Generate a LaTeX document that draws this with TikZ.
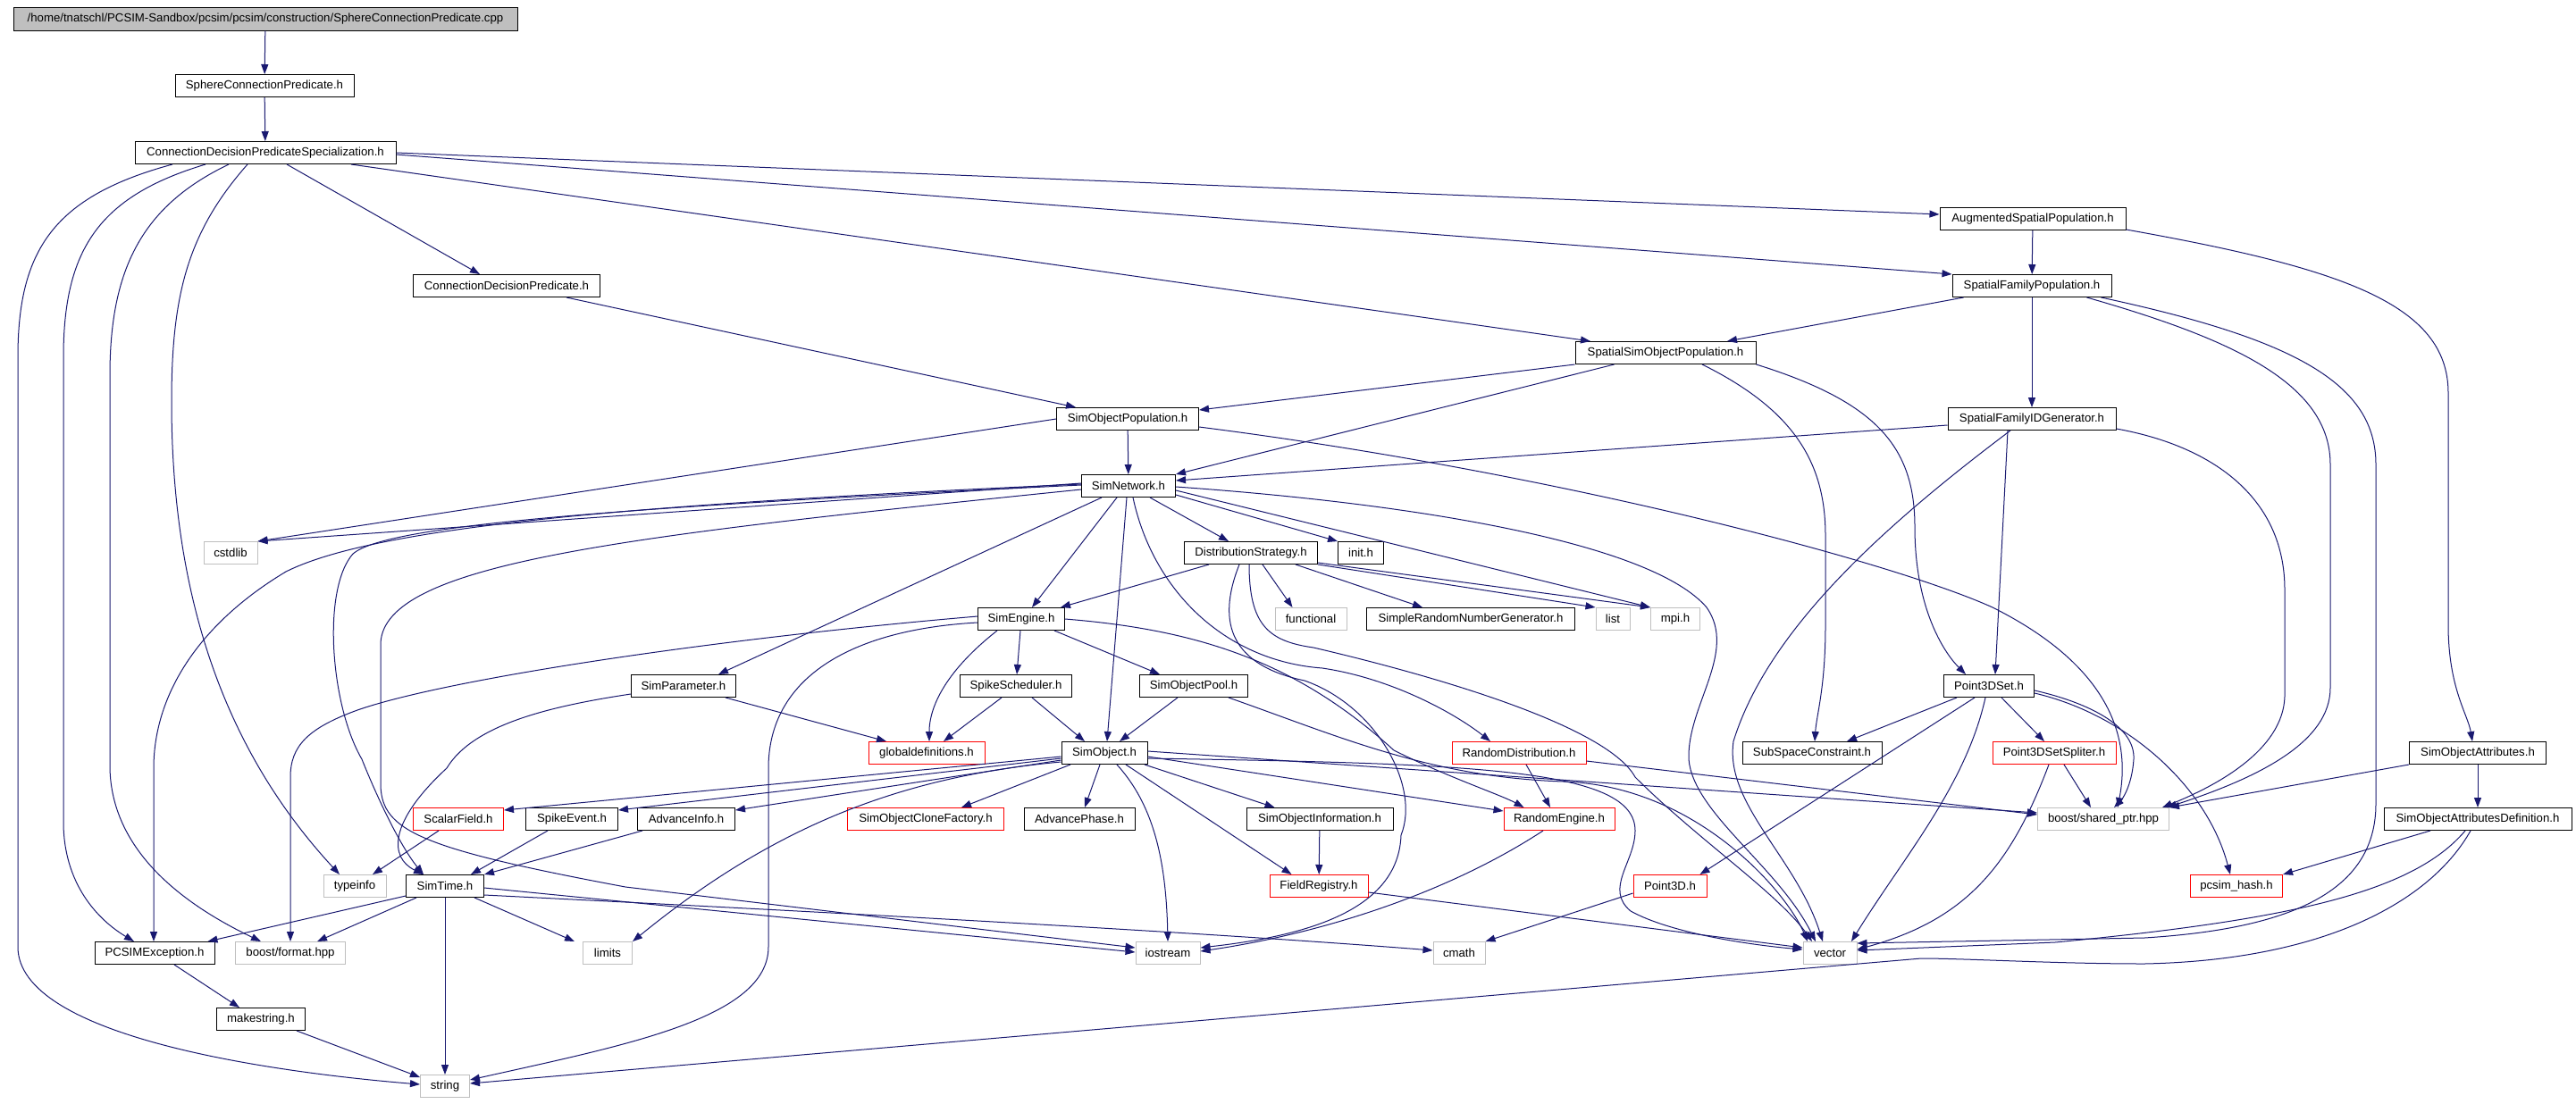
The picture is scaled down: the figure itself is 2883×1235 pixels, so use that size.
\documentclass[tikz,border=0pt]{standalone}
\usepackage{fontspec}
\setmainfont{Liberation Sans}
\usetikzlibrary{arrows.meta}
\definecolor{edgeblue}{RGB}{25,25,112}
\definecolor{sysgray}{RGB}{191,191,191}

\begin{document}
\begin{tikzpicture}[x=1pt,y=-1pt,>={Triangle[length=11pt,width=8pt]}]
    \tikzstyle{every node}=[font=\fontsize{13.2}{15}\selectfont]
    \def\bh{25pt}
    \tikzstyle{hfile}=[draw=black,line width=1pt,fill=white,inner sep=0pt,minimum height=\bh]
    \tikzstyle{sysfile}=[hfile,draw=sysgray]
    \tikzstyle{redfile}=[hfile,draw=red]
    \tikzstyle{dep}=[->,edgeblue,line width=1pt]
    \useasboundingbox (0,0) rectangle (2883,1235);
    \fill[white] (0,0) rectangle (2883,1235);
    % Draw the files, row by row
    \node[hfile,fill=sysgray,minimum height=26pt,minimum width=564pt] (cpp) at (297,21) {/home/tnatschl/PCSIM-Sandbox/pcsim/pcsim/construction/SphereConnectionPredicate.cpp};
    \node[hfile,minimum width=200pt] (scp) at (296,96) {SphereConnectionPredicate.h};
    \node[hfile,minimum width=292pt] (cdps) at (297,171) {ConnectionDecisionPredicateSpecialization.h};
    \node[hfile,minimum width=208pt] (asp) at (2275,245) {AugmentedSpatialPopulation.h};
    \node[hfile,minimum width=209pt] (cdp) at (567,320) {ConnectionDecisionPredicate.h};
    \node[hfile,minimum width=178pt] (sfp) at (2274,320) {SpatialFamilyPopulation.h};
    \node[hfile,minimum width=202pt] (ssop) at (1864,395) {SpatialSimObjectPopulation.h};
    \node[hfile,minimum width=159pt] (sop) at (1262,469) {SimObjectPopulation.h};
    \node[hfile,minimum width=188pt] (sfidg) at (2274,469) {SpatialFamilyIDGenerator.h};
    \node[hfile,minimum width=105pt] (net) at (1263,544) {SimNetwork.h};
    \node[sysfile,minimum width=60pt] (cstdlib) at (258,619) {cstdlib};
    \node[hfile,minimum width=149pt] (dist) at (1400,619) {DistributionStrategy.h};
    \node[hfile,minimum width=51pt] (init) at (1523,619) {init.h};
    \node[hfile,minimum width=97pt] (eng) at (1143,693) {SimEngine.h};
    \node[sysfile,minimum width=80pt] (func) at (1467,693) {functional};
    \node[hfile,minimum width=233pt] (srng) at (1646,693) {SimpleRandomNumberGenerator.h};
    \node[sysfile,minimum width=38pt] (list) at (1805,693) {list};
    \node[sysfile,minimum width=55pt] (mpi) at (1875,693) {mpi.h};
    \node[hfile,minimum width=117pt] (param) at (765,768) {SimParameter.h};
    \node[hfile,minimum width=125pt] (sched) at (1137,768) {SpikeScheduler.h};
    \node[hfile,minimum width=121pt] (pool) at (1336,768) {SimObjectPool.h};
    \node[hfile,minimum width=101pt] (pts) at (2226,768) {Point3DSet.h};
    \node[redfile,minimum width=130pt] (gdef) at (1037,843) {globaldefinitions.h};
    \node[hfile,minimum width=96pt] (obj) at (1236,843) {SimObject.h};
    \node[redfile,minimum width=150pt] (rdist) at (1700,843) {RandomDistribution.h};
    \node[hfile,minimum width=156pt] (ssc) at (2028,843) {SubSpaceConstraint.h};
    \node[redfile,minimum width=138pt] (split) at (2299,843) {Point3DSetSpliter.h};
    \node[hfile,minimum width=153pt] (attr) at (2773,843) {SimObjectAttributes.h};
    \node[redfile,minimum width=101pt] (scalar) at (513,917) {ScalarField.h};
    \node[hfile,minimum width=103pt] (spike) at (640,917) {SpikeEvent.h};
    \node[hfile,minimum width=109pt] (ainfo) at (768,917) {AdvanceInfo.h};
    \node[redfile,minimum width=175pt] (clone) at (1036,917) {SimObjectCloneFactory.h};
    \node[hfile,minimum width=124pt] (aphase) at (1208,917) {AdvancePhase.h};
    \node[hfile,minimum width=164pt] (oinfo) at (1477,917) {SimObjectInformation.h};
    \node[redfile,minimum width=124pt] (reng) at (1745,917) {RandomEngine.h};
    \node[sysfile,minimum width=147pt] (shptr) at (2354,917) {boost/shared\_ptr.hpp};
    \node[hfile,minimum width=210pt] (attrdef) at (2773,917) {SimObjectAttributesDefinition.h};
    \node[sysfile,minimum width=70pt] (typeinfo) at (397,992) {typeinfo};
    \node[hfile,minimum width=87pt] (time) at (498,992) {SimTime.h};
    \node[redfile,minimum width=110pt] (freg) at (1476,992) {FieldRegistry.h};
    \node[redfile,minimum width=82pt] (pt) at (1869,992) {Point3D.h};
    \node[redfile,minimum width=103pt] (hash) at (2503,992) {pcsim\_hash.h};
    \node[hfile,minimum width=134pt] (pcsimex) at (173,1067) {PCSIMException.h};
    \node[sysfile,minimum width=123pt] (fmt) at (325,1067) {boost/format.hpp};
    \node[sysfile,minimum width=55pt] (limits) at (680,1067) {limits};
    \node[sysfile,minimum width=72pt] (iostream) at (1307,1067) {iostream};
    \node[sysfile,minimum width=58pt] (cmath) at (1633,1067) {cmath};
    \node[sysfile,minimum width=60pt] (vector) at (2048,1067) {vector};
    \node[hfile,minimum width=99pt] (mkstr) at (292,1141) {makestring.h};
    \node[sysfile,minimum width=55pt] (string) at (498,1216) {string};
    % Draw the includes
    \draw[dep] (cpp) -- (scp);
    \draw[dep] (scp) -- (cdps);
    \draw[dep] ([xshift=24pt]cdps.south) -- ([xshift=-30pt]cdp.north);
    \draw[dep] (cdps.east) -- ([yshift=5pt]asp.west);
    \draw[dep] ([yshift=-2pt]cdps.east) -- (sfp.north west);
    \draw[dep] ([xshift=96pt]cdps.south) -- ([xshift=-84pt]ssop.north);
    \draw[dep] ([xshift=-104pt]cdps.south) .. controls (60,220) and (20,280) .. (20,400) -- (20,1060) .. controls (20,1160) and (300,1200) .. ([yshift=2pt]string.west);
    \draw[dep] ([xshift=-67pt]cdps.south) .. controls (110,220) and (71,280) .. (71,400) -- (71,920) .. controls (71,990) and (110,1030) .. ([xshift=-23pt]pcsimex.north);
    \draw[dep] ([xshift=-41pt]cdps.south) .. controls (160,230) and (123,300) .. (123,420) -- (123,860) .. controls (125,950) and (200,1010) .. ([xshift=-33pt]fmt.north);
    \draw[dep] ([xshift=-20pt]cdps.south) .. controls (210,260) and (192,330) .. (192,450) .. controls (192,700) and (270,860) .. ([xshift=-17pt]typeinfo.north);
    \draw[dep] (asp) -- (sfp);
    \draw[dep] ([yshift=1pt]asp.south east) .. controls (2620,300) and (2740,340) .. (2740,440) -- (2740,700) .. controls (2740,770) and (2762,800) .. ([xshift=-6pt]attr.north);
    \draw[dep] (sfp) -- (sfidg);
    \draw[dep] ([xshift=13pt]sfp.south west) -- ([xshift=69pt]ssop.north);
    \draw[dep] ([xshift=-28pt]sfp.south east) .. controls (2500,380) and (2608,430) .. (2608,520) -- (2608,770) .. controls (2608,830) and (2530,870) .. ([xshift=-3pt]shptr.north east);
    \draw[dep] ([xshift=-12pt]sfp.south east) .. controls (2570,380) and (2659,430) .. (2659,520) -- (2659,900) .. controls (2659,1000) and (2560,1040) .. (2400,1050) -- ([yshift=11pt]vector.east);
    \draw[dep] (ssop.south west) -- ([yshift=-3pt]sop.north east);
    \draw[dep] ([xshift=44pt]ssop.south west) -- (net.north east);
    \draw[dep] ([xshift=41pt]ssop.south) .. controls (2010,460) and (2043,520) .. (2043,600) -- (2043,700) .. controls (2043,770) and (2033,800) .. ([xshift=3pt]ssc.north);
    \draw[dep] (ssop.south east) .. controls (2100,450) and (2143,500) .. (2143,590) .. controls (2143,680) and (2175,730) .. ([xshift=-26pt]pts.north);
    \draw[dep] (sop) -- (net);
    \draw[dep] (sop.west) -- (cstdlib.north east);
    \draw[dep] ([yshift=-9pt]sop.east) .. controls (1750,530) and (2120,630) .. (2230,680) .. controls (2330,730) and (2390,800) .. ([xshift=16pt]shptr.north);
    \draw[dep] ([xshift=-38pt]cdp.south east) -- ([xshift=22pt]sop.north west);
    \draw[dep] ([yshift=-7pt]sfidg.west) -- ([yshift=6pt]net.east);
    \draw[dep] ([xshift=-27pt]sfidg.south) -- ([xshift=7pt]pts.north);
    \draw[dep] ([xshift=-24pt]sfidg.south) .. controls (2120,580) and (1980,700) .. (1940,830) .. controls (1930,900) and (2010,960) .. ([xshift=-8pt]vector.north);
    \draw[dep] ([yshift=2pt]sfidg.south east) .. controls (2480,500) and (2557,560) .. (2557,660) -- (2557,780) .. controls (2555,840) and (2480,880) .. ([xshift=-8pt]shptr.north east);
    % Point3DSet.h and the files right of it
    \draw[dep] ([xshift=-36pt]pts.south) -- ([xshift=39pt]ssc.north);
    \draw[dep] ([xshift=14pt]pts.south) -- ([xshift=-11pt]split.north);
    \draw[dep] ([yshift=-5pt]pts.east) .. controls (2330,785) and (2390,810) .. (2388,850) .. controls (2386,880) and (2375,895) .. ([xshift=12pt]shptr.north);
    \draw[dep] ([yshift=-8pt]pts.east) .. controls (2380,800) and (2470,880) .. ([xshift=-7pt]hash.north);
    \draw[dep] ([xshift=-16pt]pts.south) -- ([xshift=-8pt]pt.north east);
    \draw[dep] ([xshift=-4pt]pts.south) .. controls (2200,880) and (2130,960) .. ([xshift=24pt]vector.north);
    \draw[dep] ([xshift=11pt]split.south) -- ([xshift=-14pt]shptr.north);
    \draw[dep] ([xshift=-6pt]split.south) .. controls (2250,970) and (2200,1030) .. ([yshift=4pt]vector.east);
    \draw[dep] (attr.south west) -- (shptr.north east);
    \draw[dep] (attr) -- (attrdef);
    \draw[dep] ([xshift=-53pt]attrdef.south) -- (hash.north east);
    \draw[dep] ([xshift=-14pt]attrdef.south) .. controls (2700,1000) and (2560,1030) .. (2300,1055) -- ([yshift=3pt]vector.east);
    \draw[dep] ([xshift=-8pt]attrdef.south) .. controls (2720,1010) and (2600,1075) .. (2400,1079) .. controls (2300,1079) and (2200,1073) .. (2150,1073) -- ([yshift=3pt]string.east);
    % SimNetwork.h
    \draw[dep] ([yshift=3pt]net.west) -- (cstdlib.north east);
    \draw[dep] ([yshift=2pt]net.west) .. controls (700,565) and (420,590) .. (320,640) .. controls (220,700) and (172,780) .. (172,860) -- ([xshift=-1pt]pcsimex.north);
    \draw[dep] ([yshift=1pt]net.west) .. controls (650,570) and (430,590) .. (395,620) .. controls (360,660) and (370,790) .. (405,850) .. controls (425,900) and (450,950) .. ([xshift=-24pt]time.north);
    \draw[dep] ([yshift=-4pt]net.west) .. controls (700,600) and (430,630) .. (426,720) -- (426,880) .. controls (428,930) and (470,950) .. (700,993) -- ([yshift=6pt]iostream.west);
    \draw[dep] ([xshift=-30pt]net.south) -- ([xshift=-20pt]param.north east);
    \draw[dep] ([xshift=-13pt]net.south) -- ([xshift=12pt]eng.north);
    \draw[dep] ([xshift=-2pt]net.south) -- ([xshift=3pt]obj.north);
    \draw[dep] ([xshift=24pt]net.south) -- ([xshift=-25pt]dist.north);
    \draw[dep] ([yshift=-10pt]net.east) -- (init.north west);
    \draw[dep] ([yshift=-5pt]net.east) -- (mpi.north west);
    \draw[dep] ([yshift=-1pt]net.east) .. controls (1600,565) and (1850,610) .. (1910,680) .. controls (1945,730) and (1888,790) .. (1890,850) .. controls (1895,910) and (1990,970) .. ([xshift=-16pt]vector.north);
    \draw[dep] ([xshift=5pt]net.south) .. controls (1290,660) and (1370,740) .. (1480,748) .. controls (1560,760) and (1630,800) .. ([xshift=-32pt]rdist.north);
    % DistributionStrategy.h
    \draw[dep] ([xshift=-47pt]dist.south) -- ([xshift=-5pt]eng.north east);
    \draw[dep] ([xshift=13pt]dist.south) -- ([xshift=20pt]func.north west);
    \draw[dep] ([xshift=50pt]dist.south) -- ([xshift=63pt]srng.north west);
    \draw[dep] (dist.south east) -- (list.north west);
    \draw[dep] ([yshift=2pt]dist.south east) -- (mpi.north west);
    \draw[dep] ([xshift=-13pt]dist.south) .. controls (1360,700) and (1380,745) .. (1460,762) .. controls (1540,790) and (1590,880) .. (1568,935) .. controls (1565,1020) and (1460,1048) .. ([yshift=6pt]iostream.east);
    \draw[dep] ([xshift=-2pt]dist.south) .. controls (1398,700) and (1420,718) .. (1470,725) .. controls (1620,760) and (1800,815) .. (1830,870) .. controls (1900,940) and (1990,1000) .. ([xshift=-20pt]vector.north);
    % SimEngine.h, SimObjectPool.h, SpikeScheduler.h, SimParameter.h
    \draw[dep] ([xshift=-27pt]eng.south) .. controls (1060,750) and (1040,790) .. ([xshift=3pt]gdef.north);
    \draw[dep] (eng) -- (sched);
    \draw[dep] ([xshift=37pt]eng.south) -- ([xshift=-38pt]pool.north);
    \draw[dep] ([yshift=-4pt]eng.west) .. controls (950,705) and (860,760) .. (860,860) -- (860,1060) .. controls (860,1140) and (700,1170) .. ([yshift=7pt]string.east);
    \draw[dep] ([yshift=3pt]eng.west) .. controls (800,715) and (500,760) .. (400,795) .. controls (345,815) and (325,835) .. (325,870) -- (fmt.north);
    \draw[dep] (eng.east) .. controls (1340,705) and (1450,740) .. (1560,840) .. controls (1620,870) and (1680,890) .. ([xshift=23pt]reng.north west);
    \draw[dep] ([xshift=-18pt]pool.south) -- ([xshift=17pt]obj.north);
    \draw[dep] ([xshift=39pt]pool.south) .. controls (1500,825) and (1600,870) .. (1750,875) .. controls (1900,880) and (2000,1000) .. ([xshift=-25pt]vector.north);
    \draw[dep] ([xshift=-16pt]sched.south) -- ([xshift=19pt]gdef.north);
    \draw[dep] ([xshift=18pt]sched.south) -- ([xshift=-22pt]obj.north);
    \draw[dep] ([xshift=47pt]param.south) -- ([xshift=-45pt]gdef.north);
    \draw[dep] ([yshift=-9pt]param.west) .. controls (620,790) and (530,810) .. (500,860) .. controls (435,920) and (435,960) .. ([xshift=-24pt]time.north);
    % SimObject.h
    \draw[dep] ([yshift=-4pt]obj.west) -- ([yshift=-3pt]scalar.north east);
    \draw[dep] ([yshift=-6pt]obj.west) -- ([yshift=-3pt]spike.north east);
    \draw[dep] ([yshift=-8pt]obj.west) -- ([yshift=-3pt]ainfo.north east);
    \draw[dep] ([yshift=-10pt]obj.west) .. controls (1000,870) and (860,930) .. (limits.north east);
    \draw[dep] ([xshift=-38pt]obj.south) -- ([xshift=40pt]clone.north);
    \draw[dep] ([xshift=-5pt]obj.south) -- ([xshift=6pt]aphase.north);
    \draw[dep] ([xshift=14pt]obj.south) .. controls (1290,900) and (1305,960) .. (iostream.north);
    \draw[dep] ([xshift=45pt]obj.south) -- ([xshift=32pt]oinfo.north west);
    \draw[dep] ([xshift=24pt]obj.south) -- ([xshift=25pt]freg.north west);
    \draw[dep] ([yshift=2pt]obj.east) -- ([yshift=7pt]shptr.west);
    \draw[dep] ([yshift=-4pt]obj.east) -- ([yshift=-4pt]reng.north west);
    \draw[dep] ([yshift=-6pt]obj.east) .. controls (1650,855) and (1830,860) .. (1830,930) .. controls (1830,965) and (1795,995) .. (1825,1020) .. controls (1870,1045) and (1960,1058) .. ([yshift=4pt]vector.west);
    % the lower rows
    \draw[dep] ([xshift=-49pt]ainfo.south) -- (time.north east);
    \draw[dep] ([xshift=-27pt]spike.south) -- ([xshift=29pt]time.north);
    \draw[dep] ([xshift=-22pt]scalar.south) -- ([xshift=20pt]typeinfo.north);
    \draw[dep] ([yshift=-11pt]time.west) -- ([xshift=-8pt]pcsimex.north east);
    \draw[dep] ([xshift=-32pt]time.south) -- ([xshift=-32pt]fmt.north east);
    \draw[dep] (time) -- (string);
    \draw[dep] ([xshift=33pt]time.south) -- ([xshift=-9pt]limits.north west);
    \draw[dep] ([yshift=-2pt]time.east) -- ([yshift=1pt]iostream.west);
    \draw[dep] ([yshift=-10pt]time.east) .. controls (800,1015) and (1300,1040) .. ([yshift=3pt]cmath.west);
    \draw[dep] ([xshift=22pt]pcsimex.south) -- ([xshift=-24pt]mkstr.north);
    \draw[dep] ([xshift=40pt]mkstr.south) -- ([yshift=-3pt]string.north west);
    \draw[dep] (oinfo) -- (freg);
    \draw[dep] ([yshift=-7pt]freg.east) -- ([yshift=6pt]vector.west);
    \draw[dep] ([xshift=8pt]rdist.south) -- ([xshift=-10pt]reng.north);
    \draw[dep] ([yshift=-9pt]rdist.east) -- ([yshift=5pt]shptr.west);
    \draw[dep] ([xshift=-18pt]reng.south) .. controls (1620,1000) and (1480,1045) .. ([yshift=2pt]iostream.east);
    \draw[dep] ([yshift=-8pt]pt.west) -- (cmath.north east);
\end{tikzpicture}
\end{document}
